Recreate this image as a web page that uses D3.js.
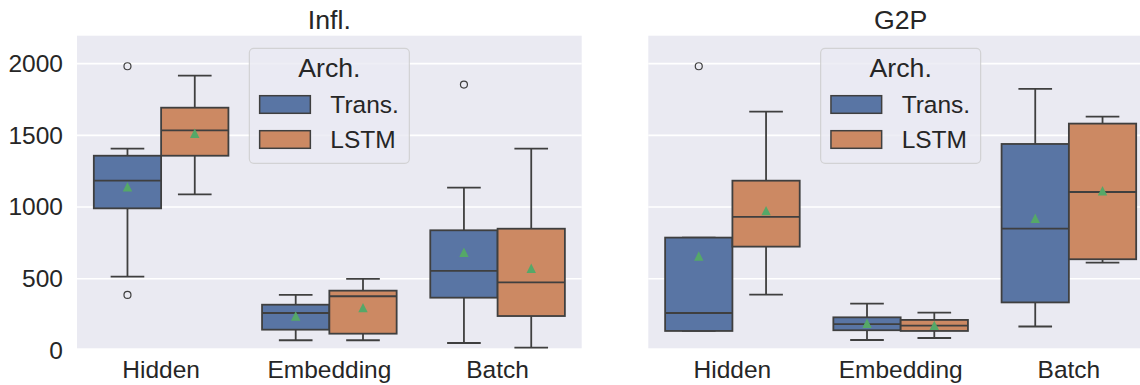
<!DOCTYPE html>
<html>
<head>
<meta charset="utf-8">
<script src="https://cdn.jsdelivr.net/npm/d3@7"></script>
<style>
  html, body { margin: 0; padding: 0; background: #fff; }
  svg { display: block; font-family: "Liberation Sans", Arial, sans-serif; }
</style>
</head>
<body>
<svg id="chart" width="1140" height="385"></svg>
<script>
// ---- data ----
const panels = ["Infl.", "G2P"];
const categories = ["Hidden", "Embedding", "Batch"];
const archs = ["Trans.", "LSTM"];
const yTicks = [0, 500, 1000, 1500, 2000];

// each row: [whiskerLow, q1, median, q3, whiskerHigh, mean], one per category
const inflTrans = [[515, 991, 1184, 1358, 1407, 1142], [71, 145, 261, 319, 387, 240], [52, 368, 555, 838, 1135, 685]];
const inflLSTM  = [[1089, 1358, 1535, 1693, 1916, 1515], [71, 117, 378, 417, 499, 299], [20, 240, 475, 849, 1407, 573]];
const g2pTrans  = [[136, 136, 261, 787, 787, 659], [73, 141, 183, 231, 326, 190], [167, 335, 849, 1440, 1824, 922]];
const g2pLSTM   = [[389, 724, 931, 1184, 1665, 975], [87, 136, 173, 213, 264, 175], [612, 636, 1105, 1582, 1630, 1114]];

const inflTransOutliers = [[1982, 387], [], [1854]];
const inflLSTMOutliers  = [[], [], []];
const g2pTransOutliers  = [[1982], [], []];
const g2pLSTMOutliers   = [[], [], []];

const seriesByPanel = [
  [{ stats: inflTrans, out: inflTransOutliers }, { stats: inflLSTM, out: inflLSTMOutliers }],
  [{ stats: g2pTrans, out: g2pTransOutliers }, { stats: g2pLSTM, out: g2pLSTMOutliers }]
];

// ---- style ----
const colors = ["#5975a4", "#cc8963"];
const lineColor = "#3f3f3f";
const meanColor = "#55a868";
const bg = "#eaeaf2";
const textColor = "#262626";
const tickFont = 24.5, titleFont = 26.7;

const svg = d3.select("#chart");
const panelX = [77, 648.3];
const panelW = 504.7;
const plotTop = 35.7, plotBottom = 348.3;

const y = d3.scaleLinear().domain([15, 2195]).range([plotBottom, plotTop]);

panels.forEach((title, pi) => {
  const x0 = panelX[pi];
  const g = svg.append("g");
  const x = d3.scaleBand().domain(categories).range([x0, x0 + panelW]).padding(0);
  const bw = x.bandwidth();
  const xs = d3.scaleBand().domain(archs).range([0.1 * bw, 0.9 * bw]).padding(0);

  g.append("rect").attr("x", x0).attr("y", plotTop).attr("width", panelW).attr("height", plotBottom - plotTop).attr("fill", bg);

  // grid
  g.selectAll(".grid").data(yTicks.filter(t => y(t) > plotTop && y(t) < plotBottom)).join("line")
    .attr("x1", x0).attr("x2", x0 + panelW)
    .attr("y1", d => y(d)).attr("y2", d => y(d))
    .attr("stroke", "#fff").attr("stroke-width", 1.6);

  // y axis labels only on the first panel
  if (pi === 0) {
    const yAxis = d3.axisLeft(y).tickValues(yTicks).tickFormat(d3.format("d")).tickSize(0).tickPadding(14);
    const ya = g.append("g").attr("transform", `translate(${x0},0)`).call(yAxis);
    ya.select(".domain").remove();
    ya.selectAll("text").attr("font-size", tickFont).attr("fill", textColor)
      .attr("font-family", '"Liberation Sans", Arial, sans-serif');
  }

  // x axis
  const xAxis = d3.axisBottom(x).tickSize(0).tickPadding(12);
  const xa = g.append("g").attr("transform", `translate(0,${plotBottom})`).call(xAxis);
  xa.select(".domain").remove();
  xa.selectAll("text").attr("font-size", tickFont).attr("fill", textColor)
    .attr("font-family", '"Liberation Sans", Arial, sans-serif');

  // title
  g.append("text").attr("x", x0 + panelW / 2).attr("y", 29).attr("text-anchor", "middle")
    .attr("font-size", titleFont).attr("fill", textColor).text(title);

  // boxes
  seriesByPanel[pi].forEach((ser, ai) => {
    categories.forEach((cat, ci) => {
      const [lo, q1, med, q3, hi, mean] = ser.stats[ci];
      const bx = x(cat) + xs(archs[ai]);
      const w = xs.bandwidth();
      const cx = bx + w / 2;
      const capW = w / 2;
      const bg2 = g.append("g");
      bg2.append("line").attr("x1", cx).attr("x2", cx).attr("y1", y(q3)).attr("y2", y(hi))
        .attr("stroke", lineColor).attr("stroke-width", 1.8);
      bg2.append("line").attr("x1", cx).attr("x2", cx).attr("y1", y(q1)).attr("y2", y(lo))
        .attr("stroke", lineColor).attr("stroke-width", 1.8);
      [lo, hi].forEach(v => bg2.append("line").attr("x1", cx - capW / 2).attr("x2", cx + capW / 2)
        .attr("y1", y(v)).attr("y2", y(v)).attr("stroke", lineColor).attr("stroke-width", 1.8));
      bg2.append("rect").attr("x", bx).attr("y", y(q3)).attr("width", w).attr("height", y(q1) - y(q3))
        .attr("fill", colors[ai]).attr("stroke", lineColor).attr("stroke-width", 1.8);
      bg2.append("line").attr("x1", bx).attr("x2", bx + w).attr("y1", y(med)).attr("y2", y(med))
        .attr("stroke", lineColor).attr("stroke-width", 1.8);
      const s = 4.7, my = y(mean);
      bg2.append("path").attr("d", `M${cx},${my - s}L${cx - s},${my + s}L${cx + s},${my + s}Z`)
        .attr("fill", meanColor);
      ser.out[ci].forEach(v => bg2.append("circle").attr("cx", cx).attr("cy", y(v)).attr("r", 3.5)
        .attr("fill", "none").attr("stroke", lineColor).attr("stroke-width", 1.2));
    });
  });

  // legend
  const lc = x0 + panelW / 2;
  const lg = g.append("g").attr("transform", `translate(${lc},0)`);
  lg.append("rect").attr("x", -80).attr("y", 48.3).attr("width", 160).attr("height", 115).attr("rx", 4.5)
    .attr("fill", bg).attr("fill-opacity", 0.8).attr("stroke", "#cccccc").attr("stroke-opacity", 0.8).attr("stroke-width", 1.2);
  lg.append("text").attr("x", 0).attr("y", 77).attr("text-anchor", "middle")
    .attr("font-size", titleFont).attr("fill", textColor).text("Arch.");
  archs.forEach((a, i) => {
    const ly = 95.7 + i * 35;
    lg.append("rect").attr("x", -69.7).attr("y", ly).attr("width", 50.7).attr("height", 17.6)
      .attr("fill", colors[i]).attr("stroke", lineColor).attr("stroke-width", 1.5);
    lg.append("text").attr("x", 1).attr("y", ly + 17.2)
      .attr("font-size", tickFont).attr("fill", textColor).text(a);
  });
});
</script>
</body>
</html>
